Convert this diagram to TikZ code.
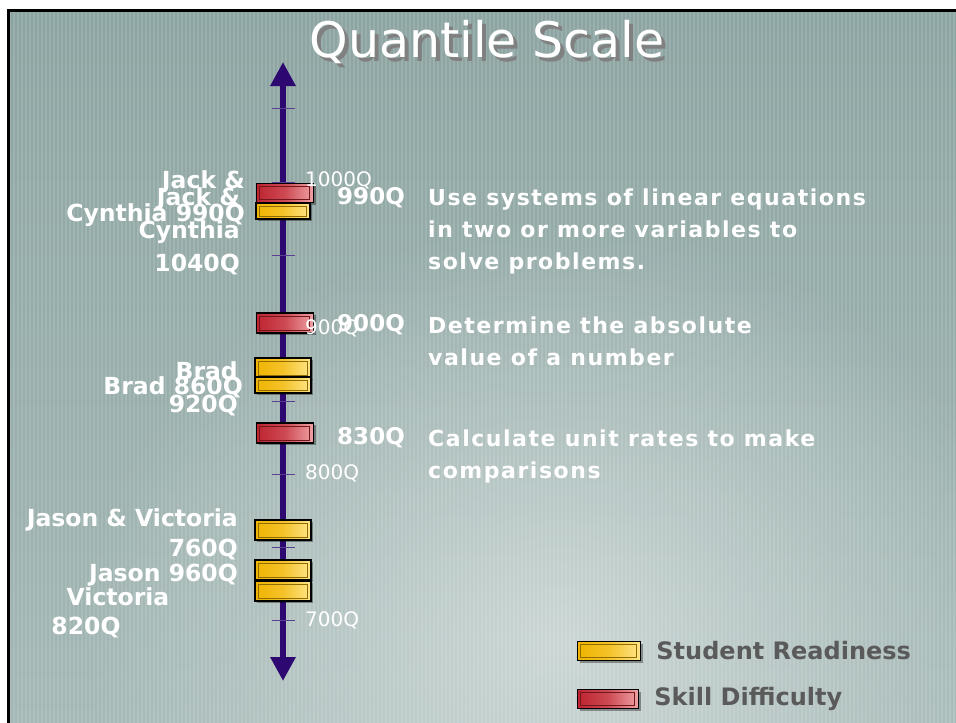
\documentclass[tikz,border=0pt]{standalone}
\usepackage{fontspec}
\setmainfont{DejaVu Sans}
\newfontfamily\spaced[LetterSpace=7]{DejaVu Sans}
\usepackage{xcolor}
\usetikzlibrary{arrows.meta,positioning,shadows,fadings}

\definecolor{slide}{HTML}{8CA4A1}
\definecolor{slidelow}{HTML}{A3B7B4}
\definecolor{axisblue}{HTML}{2C0870}
\definecolor{tickblue}{HTML}{5B3F91}
\definecolor{gold}{HTML}{F0B400}
\definecolor{goldhi}{HTML}{FFE58A}
\definecolor{brick}{HTML}{BE2430}
\definecolor{brickhi}{HTML}{EFA3A6}
\definecolor{legendgray}{HTML}{5A5A5A}

\tikzfading[name=glow, inner color=transparent!0, outer color=transparent!100]

\begin{document}
\begin{tikzpicture}[x=1pt, y=-1pt,
    ready/.style={rectangle, draw=black, line width=1.5pt, minimum width=56pt, minimum height=19pt, inner sep=0pt,
        left color=gold, right color=goldhi, middle color=gold!70!goldhi,
        drop shadow={shadow xshift=2pt, shadow yshift=-2pt, fill=black, opacity=.35},
        path picture={\draw[gold!60!black, line width=1pt] ([xshift=3pt,yshift=-3pt]path picture bounding box.north west) rectangle ([xshift=-4pt,yshift=3pt]path picture bounding box.south east);}},
    skill/.style={ready, left color=brick, right color=brickhi, middle color=brick!70!brickhi,
        path picture={\draw[brick!60!black, line width=1pt] ([xshift=3pt,yshift=-3pt]path picture bounding box.north west) rectangle ([xshift=-4pt,yshift=3pt]path picture bounding box.south east);}},
    who/.style={text=white, inner sep=0pt, align=right, anchor=east, font=\fontsize{23.5}{33}\selectfont\bfseries},
    qval/.style={text=white, inner sep=0pt, anchor=east, font=\fontsize{23}{26}\selectfont\bfseries},
    tickq/.style={text=white, inner sep=0pt, anchor=west, font=\fontsize{20}{22}\selectfont},
    skilltext/.style={text=white, inner sep=0pt, align=left, anchor=north west, font=\spaced\fontsize{22}{32}\selectfont\bfseries},
    legend/.style={text=legendgray, inner sep=0pt, anchor=west, font=\fontsize{24}{26}\selectfont\bfseries}]

    % slide background
    \useasboundingbox (0,0) rectangle (956,723);
    \fill[white] (0,0) rectangle (956,723);
    \shade[top color=slide, bottom color=slidelow] (8,10) rectangle (956,723);
    \fill[white, opacity=.45, path fading=glow] (560,640) ellipse (480 and 420);
    \foreach \sx in {10,14,...,954}
        \draw[white, opacity=.12, line width=1.6pt] (\sx,11) -- (\sx,723);
    \draw[black, line width=3pt] (8,723) -- (8,10) -- (956,10);

    % title
    \node[text=gray, font=\fontsize{49}{52}\selectfont] (shadow) at (491,46) {Quantile Scale};
    \node[text=white, font=\fontsize{49}{52}\selectfont] (title) at (487,42) {Quantile Scale};

    % the scale
    \coordinate (lo) at (283,681);
    \coordinate (hi) at (283,62);
    \draw[axisblue, line width=6pt, {Triangle[width=24pt,length=24pt]}-{Triangle[width=24pt,length=24pt]}] (lo) -- (hi);
    \foreach \ty in {108,182,255,328,401,474,547,620}
        \draw[tickblue, line width=1pt] (272,\ty) -- (295,\ty);

    % skill difficulty
    \node[skill, minimum width=57pt] (s990) at (285,193) {};
    \node[skill, minimum width=57pt, minimum height=20pt] (s900) at (285,323) {};
    \node[skill, minimum width=57pt, minimum height=20pt] (s830) at (285,433) {};

    \node[tickq] (q1000) at (305,180) {1000Q};
    \node[tickq] (q900) at (305,328) {900Q};
    \node[tickq] (q800) at (305,473) {800Q};
    \node[tickq] (q700) at (305,620) {700Q};

    \node[qval] (v990) at (405,198) {990Q};
    \node[qval] (v900) at (405,325) {900Q};
    \node[qval] (v830) at (405,438) {830Q};

    \node[skilltext] (t990) at (428,189) {Use systems of linear equations\\in two or more variables to\\solve problems.};
    \node[skilltext] (t900) at (428,317) {Determine the absolute\\value of a number};
    \node[skilltext] (t830) at (428,430) {Calculate unit rates to make\\comparisons};

    % student readiness
    \node[ready, minimum width=54pt, minimum height=16pt] (jc) at (283,211) {};
    \node[ready, minimum height=20pt] (brad1) at (283,368) {};
    \node[ready, minimum height=16pt] (brad2) at (283,385) {};
    \node[ready, minimum height=20pt] (jv) at (283,530) {};
    \node[ready, minimum height=20pt] (jason) at (283,570) {};
    \node[ready, minimum height=20pt] (vic) at (283,591) {};

    \node[who] (jcA) at (245,198.5) {Jack \&\\Cynthia 990Q};
    \node[who] (jcB) at (240,231) {Jack \&\\Cynthia\\1040Q};
    \node[who] (bradA) at (243,387) {Brad 860Q};
    \node[who] (bradB) at (238,389) {Brad\\920Q};
    \node[who, font=\fontsize{23.5}{30}\selectfont\bfseries] (jvA) at (238,534) {Jason \& Victoria\\760Q};
    \node[who] (jasonA) at (238,575) {Jason 960Q};
    \node[who, anchor=center] (vicA) at (118,597) {Victoria};
    \node[who, anchor=center] (vicB) at (86,627) {820Q};

    % legend
    \node[ready, minimum width=63pt, minimum height=19pt] (keyready) at (609,651) {};
    \node[skill, minimum width=61pt, minimum height=19pt] (keyskill) at (608,699) {};
    \node[legend, right=15pt of keyready] (lready) {Student Readiness};
    \node[legend, right=15pt of keyskill] (lskill) {Skill Difficulty};
\end{tikzpicture}
\end{document}
